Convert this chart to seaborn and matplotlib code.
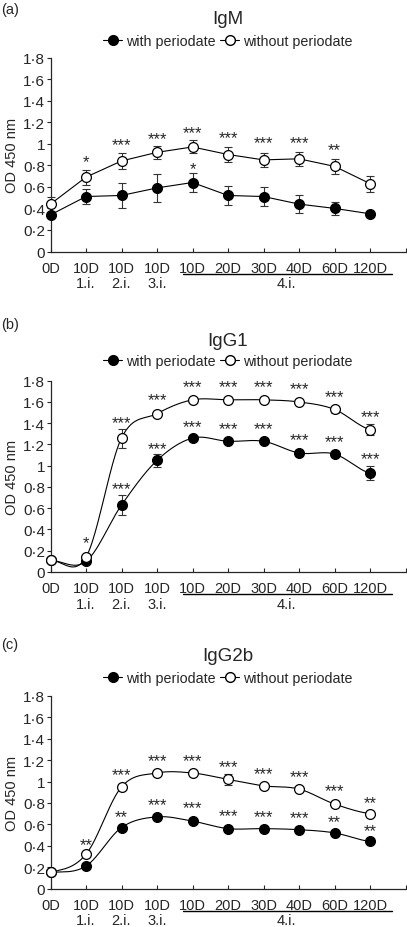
import numpy as np
import pandas as pd
import matplotlib.pyplot as plt
from matplotlib.lines import Line2D
import seaborn as sns

sns.set_theme(style="ticks")
plt.rcParams['font.family'] = ['Liberation Sans', 'DejaVu Sans']

# x categories
top_labels = ['0D', '10D', '10D', '10D', '10D', '20D', '30D', '40D', '60D', '120D']
sub_labels = ['', '1.i.', '2.i.', '3.i.', '', '', '', '', '', '']
y_ticks = [0, 0.2, 0.4, 0.6, 0.8, 1.0, 1.2, 1.4, 1.6, 1.8]
y_ticklabels = ['0', '0·2', '0·4', '0·6', '0·8', '1', '1·2', '1·4', '1·6', '1·8']

# IgM
igm_with = [0.34, 0.51, 0.52, 0.59, 0.64, 0.52, 0.51, 0.44, 0.40, 0.35]
igm_with_err = [0.02, 0.07, 0.12, 0.13, 0.085, 0.09, 0.09, 0.085, 0.06, 0.02]
igm_without = [0.44, 0.69, 0.84, 0.92, 0.97, 0.90, 0.85, 0.86, 0.79, 0.63]
igm_without_err = [0.07, 0.07, 0.07, 0.06, 0.06, 0.07, 0.065, 0.065, 0.07, 0.075]
igm_stars = [(1, 0.88, '*'), (2, 1.035, '***'), (3, 1.097, '***'), (4, 1.153, '***'),
             (5, 1.10, '***'), (6, 1.057, '***'), (7, 1.057, '***'), (8, 0.995, '**'),
             (4, 0.818, '*')]

# IgG1
igg1_with = [0.11, 0.10, 0.63, 1.05, 1.26, 1.23, 1.23, 1.12, 1.11, 0.93]
igg1_with_err = [0.02, 0.02, 0.09, 0.06, 0.02, 0.02, 0.02, 0.02, 0.02, 0.065]
igg1_without = [0.11, 0.14, 1.26, 1.49, 1.62, 1.62, 1.62, 1.60, 1.53, 1.34]
igg1_without_err = [0.02, 0.02, 0.09, 0.02, 0.02, 0.02, 0.02, 0.02, 0.03, 0.055]
igg1_stars = [(1, 0.326, '*'), (2, 1.453, '***'), (3, 1.666, '***'), (4, 1.79, '***'),
              (5, 1.79, '***'), (6, 1.79, '***'), (7, 1.77, '***'), (8, 1.70, '***'),
              (9, 1.51, '***'),
              (2, 0.83, '***'), (3, 1.206, '***'), (4, 1.42, '***'), (5, 1.395, '***'),
              (6, 1.395, '***'), (7, 1.29, '***'), (8, 1.27, '***'), (9, 1.11, '***')]

# IgG2b
igg2b_with = [0.15, 0.21, 0.57, 0.67, 0.63, 0.56, 0.56, 0.55, 0.52, 0.44]
igg2b_with_err = [0.01, 0.02, 0.02, 0.02, 0.02, 0.02, 0.02, 0.02, 0.02, 0.02]
igg2b_without = [0.15, 0.32, 0.95, 1.08, 1.08, 1.02, 0.96, 0.93, 0.79, 0.70]
igg2b_without_err = [0.01, 0.02, 0.02, 0.02, 0.02, 0.05, 0.02, 0.02, 0.02, 0.02]
igg2b_stars = [(1, 0.46, '**'), (2, 1.11, '***'), (3, 1.24, '***'), (4, 1.24, '***'),
               (5, 1.19, '***'), (6, 1.12, '***'), (7, 1.09, '***'), (8, 0.96, '***'),
               (9, 0.85, '**'),
               (2, 0.72, '**'), (3, 0.83, '***'), (4, 0.80, '***'), (5, 0.73, '***'),
               (6, 0.72, '***'), (7, 0.71, '***'), (8, 0.67, '**'), (9, 0.59, '**')]


def smooth(y, n=24):
    # Catmull-Rom through the points (like a spreadsheet "smoothed line")
    y = np.asarray(y, float)
    m = np.zeros_like(y)
    m[1:-1] = (y[2:] - y[:-2]) / 2
    m[0] = (y[1] - y[0]) / 2
    m[-1] = (y[-1] - y[-2]) / 2
    xs, ys = [], []
    for i in range(len(y) - 1):
        t = np.linspace(0, 1, n, endpoint=False)
        h00 = 2 * t**3 - 3 * t**2 + 1
        h10 = t**3 - 2 * t**2 + t
        h01 = -2 * t**3 + 3 * t**2
        h11 = t**3 - t**2
        xs.append(i + t)
        ys.append(h00 * y[i] + h10 * m[i] + h01 * y[i + 1] + h11 * m[i + 1])
    xs.append([len(y) - 1])
    ys.append([y[-1]])
    return np.concatenate(xs), np.concatenate(ys)


fig = plt.figure(figsize=(4.07, 9.28), dpi=100)
H = 928.0
PX = 72.0 / 100  # points per pixel

panels = [
    ('(a)', 'IgM', igm_with, igm_with_err, igm_without, igm_without_err, igm_stars, False,
     58.5, 252.5, 10, 20, 42),
    ('(b)', 'IgG1', igg1_with, igg1_with_err, igg1_without, igg1_without_err, igg1_stars, True,
     381.7, 573, 325, 342, 362),
    ('(c)', 'IgG2b', igg2b_with, igg2b_with_err, igg2b_without, igg2b_without_err, igg2b_stars, True,
     697, 889.5, 645, 657, 679),
]

x = np.arange(len(top_labels))

for (plabel, title, yw, ew, yo, eo, stars, smoothed,
     top, bot, lab_y, title_y, leg_y) in panels:
    ax = fig.add_axes([50.5 / 407, 1 - bot / H, 355 / 407, (bot - top) / H])

    for yv, ev, fc in [(yw, ew, 'black'), (yo, eo, 'white')]:
        if smoothed:
            sx, sy = smooth(yv)
        else:
            sx, sy = x.astype(float), np.asarray(yv)
        line_df = pd.DataFrame({'x': sx, 'y': sy})
        sns.lineplot(data=line_df, x='x', y='y', ax=ax, color='black', lw=0.8,
                     estimator=None, sort=False, zorder=2, clip_on=False)
        ax.errorbar(x, yv, yerr=ev, fmt='none', ecolor='#333333', elinewidth=0.8,
                    capsize=3, capthick=0.8, zorder=3, clip_on=False)
        pt_df = pd.DataFrame({'x': x, 'y': yv})
        sns.scatterplot(data=pt_df, x='x', y='y', ax=ax, s=50, color=fc,
                        edgecolor='black', linewidth=0.9, zorder=4, clip_on=False)

    for xi, yi, s in stars:
        ax.annotate(s, (xi, yi), xytext=(0, -6.9), textcoords='offset points',
                    ha='center', va='baseline', fontsize=12)

    ax.set_xlim(0, 10)
    ax.set_ylim(0, 1.8)
    ax.set_yticks(y_ticks)
    ax.set_yticklabels(y_ticklabels, fontsize=11)
    ax.set_xticks(list(x) + [10])
    ax.set_xticklabels(top_labels + [''], fontsize=10.5)
    ax.tick_params(axis='x', direction='in', length=3, width=0.8, pad=6.5)
    ax.tick_params(axis='y', direction='out', length=3, width=0.8, pad=1)
    for sp in ['left', 'bottom']:
        ax.spines[sp].set_linewidth(0.9)
    sns.despine(ax=ax)
    ax.set_xlabel('')
    ax.set_ylabel('OD 450 nm', fontsize=10.5, labelpad=3)

    for xi, s in zip(x, sub_labels):
        if s:
            ax.annotate(s, (xi, 0), xycoords=('data', 'axes fraction'),
                        xytext=(0, -32 * PX), textcoords='offset points',
                        ha='center', va='center', fontsize=10.5)
    ax.annotate('4.i.', (6.65, 0), xycoords=('data', 'axes fraction'),
                xytext=(0, -32 * PX), textcoords='offset points',
                ha='center', va='center', fontsize=10.5)
    # underline grouping the 4th-immunisation time points
    uy = -22 / (bot - top)
    ax.plot([3.74, 9.62], [uy, uy], color='black', lw=1.0,
            transform=ax.get_xaxis_transform(), clip_on=False)

    fig.text(0.003, 1 - lab_y / H, plabel, fontsize=10.5, va='center', ha='left')
    fig.text(228 / 407, 1 - title_y / H, title, fontsize=13.5, va='center', ha='center')

    handles = [Line2D([], [], color='black', lw=0.8, marker='o', markersize=7,
                      markerfacecolor='black', markeredgecolor='black'),
               Line2D([], [], color='black', lw=0.8, marker='o', markersize=7,
                      markerfacecolor='white', markeredgecolor='black')]
    fig.legend(handles, ['with periodate', 'without periodate'], ncol=2,
               loc='center', bbox_to_anchor=(228 / 407, 1 - leg_y / H), frameon=False,
               fontsize=10.3, handlelength=1.3, handletextpad=0.3, columnspacing=0.3,
               borderpad=0, borderaxespad=0)

fig.savefig('out.png', dpi=100)
